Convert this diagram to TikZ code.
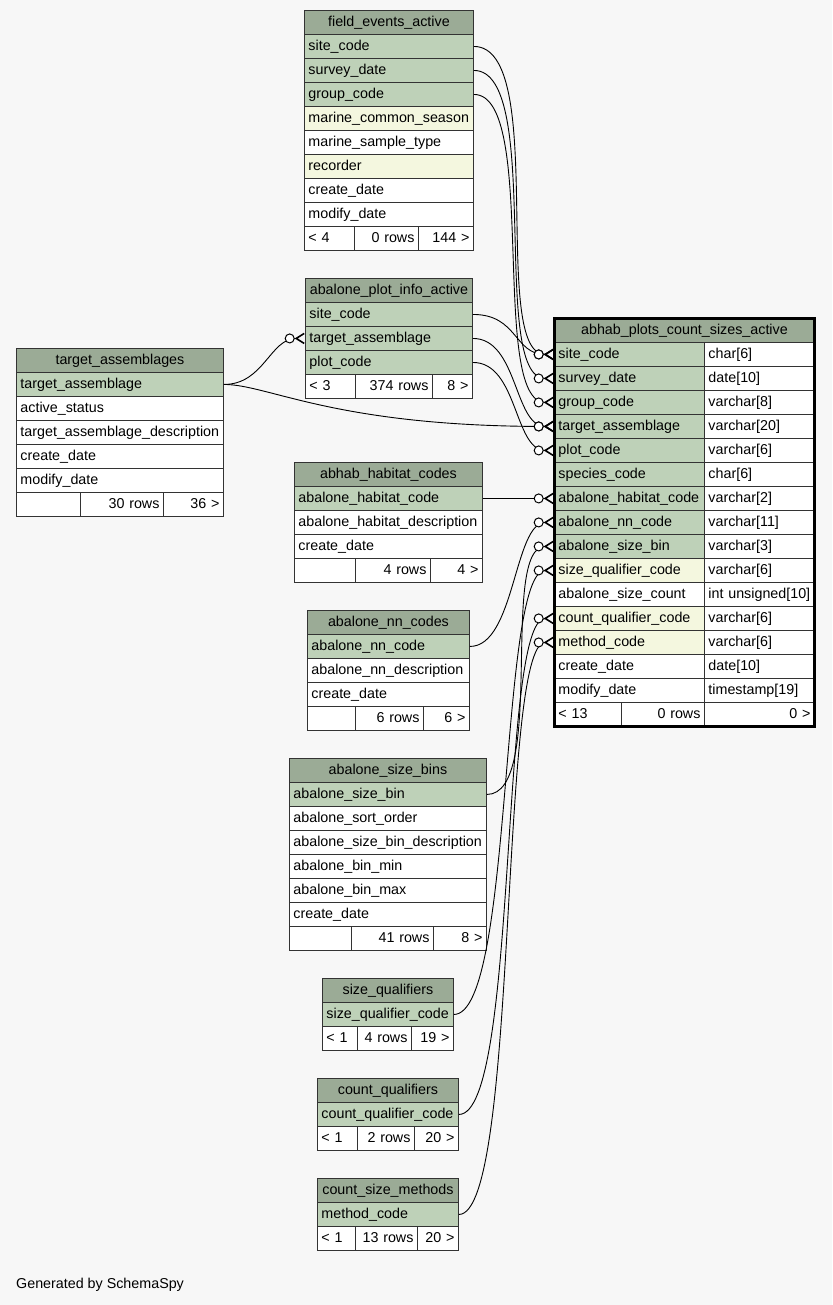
\documentclass[tikz,border=0pt]{standalone}
\usepackage{fontspec}
\setmainfont{Liberation Sans}
\usetikzlibrary{arrows.meta}
\definecolor{bggray}{HTML}{F7F7F7}
\definecolor{hdgreen}{HTML}{9BAB96}
\definecolor{keygreen}{HTML}{BED1B8}
\definecolor{idxyellow}{HTML}{F4F7DF}
\begin{document}
\begin{tikzpicture}[x=1pt,y=-1pt]
\tikzset{cell/.style={draw=black!80, line width=0.9pt, fill=white, anchor=north west, minimum height=24pt, inner xsep=4pt, inner ysep=0pt, text height=10.5pt, text depth=3pt, align=left, font=\fontsize{14.3}{16}\selectfont},
  head/.style={cell, fill=hdgreen, align=center},
  num/.style={cell, align=right},
  rel/.style={line width=0.9pt, -{Circle[fill=white,length=10pt,width=10pt,line width=1pt] Straight Barb[reversed,length=8pt,width=10pt,line width=1.6pt]}}}
\fill[bggray] (0,0) rectangle (832,1305);
\useasboundingbox (0,0) rectangle (832,1305);

\node[head, text width=161pt] (fea) at (304,10) {field\_events\_active};
\foreach \fc/\nm [count=\i] in {keygreen/site\_code, keygreen/survey\_date, keygreen/group\_code, idxyellow/marine\_common\_season, white/marine\_sample\_type, idxyellow/recorder, white/create\_date, white/modify\_date}
  \node[cell, fill=\fc, text width=161pt] (fea-\i) at (304,10+24*\i) {\nm};
\node[cell, text width=42pt] (fea-fa) at (304,226) {< 4};
\node[num, text width=56pt] (fea-fb) at (354,226) {0 rows};
\node[num, text width=47pt] (fea-fc) at (418,226) {144 >};

\node[head, text width=159pt] (pia) at (305,278) {abalone\_plot\_info\_active};
\foreach \nm [count=\i] in {site\_code, target\_assemblage, plot\_code}
  \node[cell, fill=keygreen, text width=159pt] (pia-\i) at (305,278+24*\i) {\nm};
\node[cell, text width=42pt] (pia-fa) at (305,374) {< 3};
\node[num, text width=69pt] (pia-fb) at (355,374) {374 rows};
\node[num, text width=32pt] (pia-fc) at (432,374) {8 >};

\node[head, text width=199pt] (tas) at (16,348) {target\_assemblages};
\foreach \fc/\nm [count=\i] in {keygreen/target\_assemblage, white/active\_status, white/target\_assemblage\_description, white/create\_date, white/modify\_date}
  \node[cell, fill=\fc, text width=199pt] (tas-\i) at (16,348+24*\i) {\nm};
\node[cell, text width=56pt] (tas-fa) at (16,492) {};
\node[num, text width=75pt] (tas-fb) at (80,492) {30 rows};
\node[num, text width=52pt] (tas-fc) at (163,492) {36 >};

\node[head, text width=180pt] (ahc) at (294,462) {abhab\_habitat\_codes};
\foreach \fc/\nm [count=\i] in {keygreen/abalone\_habitat\_code, white/abalone\_habitat\_description, white/create\_date}
  \node[cell, fill=\fc, text width=180pt] (ahc-\i) at (294,462+24*\i) {\nm};
\node[cell, text width=53pt] (ahc-fa) at (294,558) {};
\node[num, text width=67pt] (ahc-fb) at (355,558) {4 rows};
\node[num, text width=44pt] (ahc-fc) at (430,558) {4 >};

\node[head, text width=154pt] (anc) at (307,610) {abalone\_nn\_codes};
\foreach \fc/\nm [count=\i] in {keygreen/abalone\_nn\_code, white/abalone\_nn\_description, white/create\_date}
  \node[cell, fill=\fc, text width=154pt] (anc-\i) at (307,610+24*\i) {\nm};
\node[cell, text width=40pt] (anc-fa) at (307,706) {};
\node[num, text width=60pt] (anc-fb) at (355,706) {6 rows};
\node[num, text width=38pt] (anc-fc) at (423,706) {6 >};

\node[head, text width=189pt] (asb) at (289,758) {abalone\_size\_bins};
\foreach \fc/\nm [count=\i] in {keygreen/abalone\_size\_bin, white/abalone\_sort\_order, white/abalone\_size\_bin\_description, white/abalone\_bin\_min, white/abalone\_bin\_max, white/create\_date}
  \node[cell, fill=\fc, text width=189pt] (asb-\i) at (289,758+24*\i) {\nm};
\node[cell, text width=54pt] (asb-fa) at (289,926) {};
\node[num, text width=74pt] (asb-fb) at (351,926) {41 rows};
\node[num, text width=45pt] (asb-fc) at (433,926) {8 >};

\node[head, text width=123pt] (sqf) at (322,978) {size\_qualifiers};
\node[cell, fill=keygreen, text width=123pt] (sqf-1) at (322,1002) {size\_qualifier\_code};
\node[cell, text width=27pt] (sqf-fa) at (322,1026) {< 1};
\node[num, text width=46pt] (sqf-fb) at (357,1026) {4 rows};
\node[num, text width=34pt] (sqf-fc) at (411,1026) {19 >};

\node[head, text width=133pt] (cqf) at (317,1078) {count\_qualifiers};
\node[cell, fill=keygreen, text width=133pt] (cqf-1) at (317,1102) {count\_qualifier\_code};
\node[cell, text width=32pt] (cqf-fa) at (317,1126) {< 1};
\node[num, text width=49pt] (cqf-fb) at (357,1126) {2 rows};
\node[num, text width=36pt] (cqf-fc) at (414,1126) {20 >};

\node[head, text width=133pt] (csm) at (317,1178) {count\_size\_methods};
\node[cell, fill=keygreen, text width=133pt] (csm-1) at (317,1202) {method\_code};
\node[cell, text width=30pt] (csm-fa) at (317,1226) {< 1};
\node[num, text width=54pt] (csm-fb) at (355,1226) {13 rows};
\node[num, text width=33pt] (csm-fc) at (417,1226) {20 >};

\node[head, text width=252pt] (pcs) at (554,318) {abhab\_plots\_count\_sizes\_active};
\foreach \fc/\nm/\ty [count=\i] in {keygreen/site\_code/char[6], keygreen/survey\_date/date[10], keygreen/group\_code/varchar[8], keygreen/target\_assemblage/varchar[20], keygreen/plot\_code/varchar[6], keygreen/species\_code/char[6], keygreen/abalone\_habitat\_code/varchar[2], keygreen/abalone\_nn\_code/varchar[11], keygreen/abalone\_size\_bin/varchar[3], idxyellow/size\_qualifier\_code/varchar[6], white/abalone\_size\_count/int unsigned[10], idxyellow/count\_qualifier\_code/varchar[6], idxyellow/method\_code/varchar[6], white/create\_date/date[10], white/modify\_date/timestamp[19]}
{
  \node[cell, fill=\fc, text width=142pt] (pcs-\i) at (554,318+24*\i) {\nm};
  \node[cell, text width=102pt] (pcs-\i-t) at (704,318+24*\i) {\ty};
}
\node[cell, text width=59pt] (pcs-fa) at (554,702) {< 13};
\node[num, text width=75pt] (pcs-fb) at (621,702) {0 rows};
\node[num, text width=102pt] (pcs-fc) at (704,702) {0 >};
\draw[line width=3pt] (pcs.north west) rectangle (pcs-fc.south east);

\draw[rel] (fea-1.east) .. controls +(75,0) and +(-65,0) .. (pcs-1.west);
\draw[rel] (fea-2.east) .. controls +(70,0) and +(-65,0) .. (pcs-2.west);
\draw[rel] (fea-3.east) .. controls +(65,0) and +(-65,0) .. (pcs-3.west);
\draw[rel] (pia-1.east) .. controls +(45,0) and +(-40,0) .. (pcs-1.west);
\draw[rel] (pia-2.east) .. controls +(45,0) and +(-40,0) .. (pcs-4.west);
\draw[rel] (pia-3.east) .. controls +(45,0) and +(-40,0) .. (pcs-5.west);
\draw[rel] (tas-1.east) .. controls +(40,0) and +(-35,0) .. (pia-2.west);
\draw[rel] (tas-1.east) .. controls +(45,0) and +(-220,0) .. (pcs-4.west);
\draw[rel] (ahc-1.east) -- (pcs-7.west);
\draw[rel] (anc-1.east) .. controls +(45,0) and +(-40,0) .. (pcs-8.west);
\draw[rel] (asb-1.east) .. controls +(60,0) and +(-55,0) .. (pcs-9.west);
\draw[rel] (sqf-1.east) .. controls +(60,0) and +(-55,0) .. (pcs-10.west);
\draw[rel] (cqf-1.east) .. controls +(60,0) and +(-55,0) .. (pcs-12.west);
\draw[rel] (csm-1.east) .. controls +(60,0) and +(-55,0) .. (pcs-13.west);

\node[anchor=west, inner sep=0pt, font=\fontsize{14.3}{16}\selectfont] (gen) at (16,1285) {Generated by SchemaSpy};
\end{tikzpicture}
\end{document}
